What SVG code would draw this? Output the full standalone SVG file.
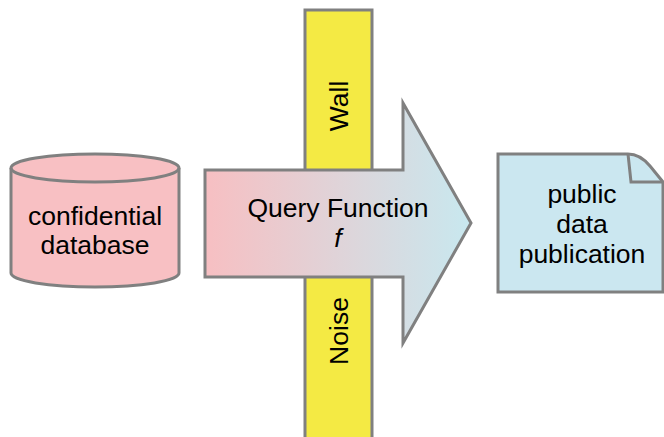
<svg xmlns="http://www.w3.org/2000/svg" width="664" height="437" viewBox="0 0 664 437">
<defs>
<linearGradient id="g" x1="0" y1="0" x2="1" y2="0">
<stop offset="0" stop-color="#f7bfc2"/>
<stop offset="1" stop-color="#c8e8ef"/>
</linearGradient>
<style>
.s{stroke:#808080;stroke-width:3;}
.t{font-family:"Liberation Sans",Arial,sans-serif;font-size:26.5px;fill:#000;text-anchor:middle;}
</style>
</defs>
<rect width="664" height="437" fill="#fff"/>
<g id="wall">
<rect class="s" x="305" y="10" width="67" height="440" fill="#f4ea44"/>
<text class="t" transform="translate(348,106) rotate(-90)">Wall</text>
<text class="t" transform="translate(348,331) rotate(-90)">Noise</text>
</g>
<g id="database">
<path class="s" d="M11,168 L11,273 A84,14 0 0 0 179,273 L179,168 A84,14 0 0 0 11,168 Z" fill="#f8c0c3"/>
<path class="s" d="M11,168 A84,14 0 0 0 179,168" fill="none"/>
<text class="t" x="95" y="225">confidential</text>
<text class="t" x="95" y="254">database</text>
</g>
<g id="query">
<path class="s" d="M205,170 L403,170 L403,103 L471,223 L403,343 L403,277 L205,277 Z" fill="url(#g)"/>
<text class="t" x="338" y="217">Query Function</text>
<text class="t" x="338" y="247" font-style="italic">f</text>
</g>
<g id="publication">
<path class="s" d="M498,154 L628,154 Q640,154 650,166 L663,182 L663,292 L498,292 Z" fill="#cbe7f0"/>
<path class="s" d="M628,154 L631,182 L663,182" fill="none"/>
<text class="t" x="582" y="203">public</text>
<text class="t" x="582" y="233">data</text>
<text class="t" x="582" y="263">publication</text>
</g>
</svg>
